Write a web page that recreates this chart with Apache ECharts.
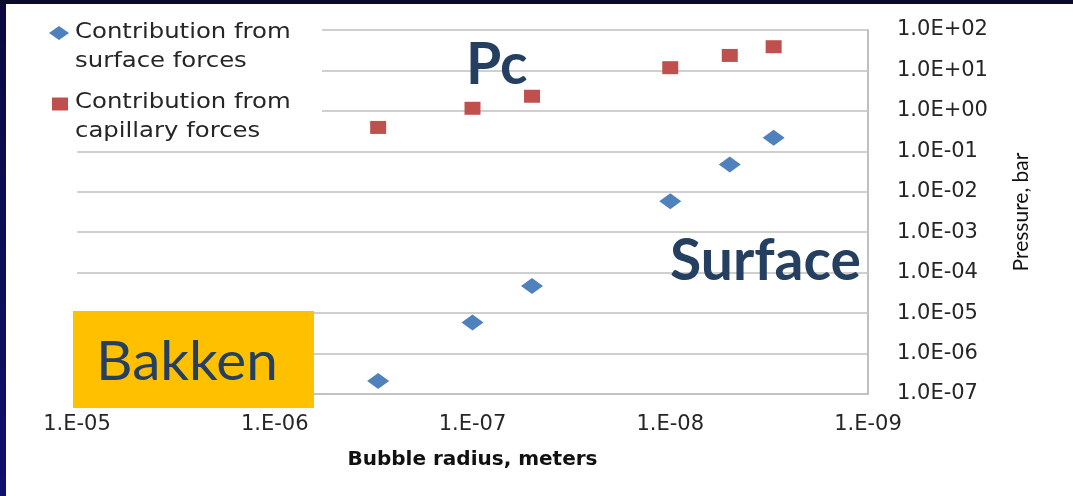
<!DOCTYPE html>
<html>
<head>
<meta charset="utf-8">
<title>Bakken - bubble radius vs pressure</title>
<script src="https://cdn.jsdelivr.net/npm/echarts@6/dist/echarts.min.js"></script>
<style>
	html, body { margin: 0; padding: 0; background: #fff; }
	#chart { width: 1073px; height: 496px; }
</style>
</head>
<body>
<div id="chart"></div>
<script>
// bubble radius, meters (same for both series)
var radius = [3e-7, 1e-7, 5e-8, 1e-8, 5e-9, 3e-9];
// pressure, bar
var surfacePressure = [2.1e-7, 5.9e-6, 4.7e-5, 5.8e-3, 4.7e-2, 0.217];
var capillaryPressure = [0.39, 1.16, 2.3, 11.7, 23.5, 38.6];

var seriesNames = ['Contribution from surface forces', 'Contribution from capillary forces'];
var xTicks = [1e-9, 1e-5];   // x range, axis is reversed
var yTicks = [1e-7, 1e2];

var navy = '#243F60';
var gridColor = '#BFBFBF';
var tickFont = 'DejaVu Sans';

function zip(xs, ys) {
	var out = [];
	for (var i = 0; i < xs.length; i++) {
		out.push([xs[i], ys[i]]);
	}
	return out;
}

function expo(v) {
	var e = Math.round(Math.log10(v));
	var a = Math.abs(e);
	return (e < 0 ? '-' : '+') + (a < 10 ? '0' : '') + a;
}

var chart = echarts.init(document.getElementById('chart'), null, { renderer: 'canvas' });

var option = {
	backgroundColor: '#ffffff',
	animation: false,
	grid: {
		left: 77,
		right: 205,
		top: 30,
		bottom: 102,
		outerBoundsMode: 'none'
	},
	xAxis: {
		type: 'log',
		logBase: 10,
		min: xTicks[0],
		max: xTicks[1],
		inverse: true,
		name: 'Bubble radius, meters',
		nameLocation: 'middle',
		nameGap: 56,
		nameTextStyle: {
			fontFamily: tickFont,
			fontWeight: 'bold',
			fontSize: 20,
			color: '#111111',
			verticalAlign: 'top'
		},
		axisLine: { show: true, lineStyle: { color: gridColor, width: 1.5 } },
		axisTick: { show: false },
		splitLine: { show: false },
		axisLabel: {
			margin: 20,
			fontFamily: tickFont,
			fontSize: 21,
			color: '#262626',
			formatter: function(v) { return '1.E' + expo(v); }
		}
	},
	yAxis: {
		type: 'log',
		logBase: 10,
		min: yTicks[0],
		max: yTicks[1],
		position: 'right',
		name: 'Pressure, bar',
		nameLocation: 'middle',
		nameRotate: 90,
		nameGap: 143,
		nameTextStyle: {
			fontFamily: 'Lato',
			fontSize: 21,
			color: '#111111'
		},
		axisLine: { show: true, lineStyle: { color: gridColor, width: 2 } },
		axisTick: { show: false },
		splitLine: { show: true, lineStyle: { color: gridColor, width: 1.5 } },
		axisLabel: {
			margin: 29,
			fontFamily: tickFont,
			fontSize: 21,
			color: '#262626',
			formatter: function(v) { return '1.0E' + expo(v); }
		}
	},
	series: [
		{
			name: seriesNames[0],
			type: 'scatter',
			symbol: 'diamond',
			symbolSize: [22, 16],
			itemStyle: { color: '#4F81BD', opacity: 1 },
			data: zip(radius, surfacePressure)
		},
		{
			name: seriesNames[1],
			type: 'scatter',
			symbol: 'rect',
			symbolSize: [16, 13],
			itemStyle: { color: '#C0504D', opacity: 1 },
			data: zip(radius, capillaryPressure)
		}
	],
	graphic: [
		// dark slide frame
		{ type: 'rect', left: 0, top: 0, z: 200, shape: { width: 6, height: 496 },
			style: { fill: new echarts.graphic.LinearGradient(0, 0, 0, 1, [
				{ offset: 0, color: '#0a0a40' }, { offset: 1, color: '#10106e' }]) } },
		{ type: 'rect', left: 0, top: 0, z: 200, shape: { width: 1073, height: 4 },
			style: { fill: '#0b0b2e' } },
		// legend, drawn by hand so the icon sits on the first text line
		{ type: 'rect', left: 70, top: 12, z: 20, shape: { width: 252, height: 134 },
			style: { fill: '#ffffff' } },
		{ type: 'polygon', z: 21, shape: { points: [[49, 33], [59, 26], [69, 33], [59, 40]] },
			style: { fill: '#4F81BD' } },
		{ type: 'rect', z: 21, shape: { x: 52, y: 97.5, width: 16, height: 13 },
			style: { fill: '#C0504D' } },
		{ type: 'text', z: 21, x: 75, y: 18.5, scaleX: 1.16,
			style: { text: 'Contribution from\nsurface forces', fill: '#262626', font: '21px "DejaVu Sans"',
				lineHeight: 29, verticalAlign: 'top' } },
		{ type: 'text', z: 21, x: 75, y: 88.5, scaleX: 1.16,
			style: { text: 'Contribution from\ncapillary forces', fill: '#262626', font: '21px "DejaVu Sans"',
				lineHeight: 29, verticalAlign: 'top' } },
		// annotations
		{ type: 'text', z: 30, x: 466, y: 66,
			style: { text: 'Pc', fill: navy, font: 'bold 57px Lato', verticalAlign: 'middle' } },
		{ type: 'text', z: 30, x: 670, y: 262,
			style: { text: 'Surface', fill: navy, font: 'bold 57px Lato', verticalAlign: 'middle' } },
		{ type: 'rect', z: 30, shape: { x: 73, y: 311, width: 241, height: 97 },
			style: { fill: '#FFC000' } },
		{ type: 'text', z: 31, x: 96, y: 362, scaleX: 1.03,
			style: { text: 'Bakken', fill: navy, font: '55px Lato', verticalAlign: 'middle' } }
	]
};

chart.setOption(option);
</script>
</body>
</html>
